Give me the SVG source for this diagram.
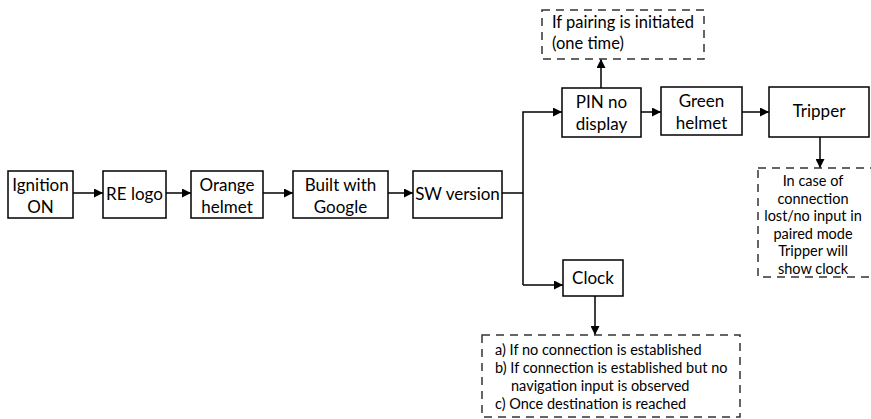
<svg xmlns="http://www.w3.org/2000/svg" width="871" height="419" viewBox="0 0 871 419">
<style>
.box{fill:#fff;stroke:#000;stroke-width:1.5}
.dash{fill:#fff;stroke:#333;stroke-width:1.5;stroke-dasharray:8 6}
.t{font-family:Lato,"Open Sans",sans-serif;font-size:17px;fill:#000;text-anchor:middle}
.s{font-family:Lato,"Open Sans",sans-serif;font-size:14.5px;fill:#000}
.n{font-family:Lato,"Open Sans",sans-serif;font-size:14.5px;fill:#000;text-anchor:middle}
.p{font-family:Lato,"Open Sans",sans-serif;font-size:16.5px;fill:#000}
.c{stroke:#000;stroke-width:1.5;fill:none}
</style>
<defs>
<marker id="ah" viewBox="0 0 10 10" refX="10" refY="5" markerWidth="9" markerHeight="9" markerUnits="userSpaceOnUse" orient="auto">
<path d="M0,0 L10,5 L0,10 z" fill="#000"/>
</marker>
</defs>
<g id="connectors">
<line class="c" x1="73" y1="193" x2="103" y2="193" marker-end="url(#ah)"/>
<line class="c" x1="166" y1="193" x2="191" y2="193" marker-end="url(#ah)"/>
<line class="c" x1="263" y1="193" x2="293" y2="193" marker-end="url(#ah)"/>
<line class="c" x1="388" y1="193" x2="413" y2="193" marker-end="url(#ah)"/>
<line class="c" x1="502" y1="193" x2="523" y2="193"/>
<polyline class="c" points="523,285 523,112 562,112" marker-end="url(#ah)"/>
<line class="c" x1="523" y1="285" x2="563" y2="285" marker-end="url(#ah)"/>
<line class="c" x1="601" y1="88" x2="601" y2="59" marker-end="url(#ah)"/>
<line class="c" x1="641" y1="112" x2="661" y2="112" marker-end="url(#ah)"/>
<line class="c" x1="742" y1="112" x2="769" y2="112" marker-end="url(#ah)"/>
<line class="c" x1="820" y1="137" x2="820" y2="168" marker-end="url(#ah)"/>
<line class="c" x1="595" y1="296" x2="595" y2="335" marker-end="url(#ah)"/>
</g>
<g id="ignition"><rect class="box" x="8" y="171" width="65" height="47"/><text class="t" x="40.5" y="191">Ignition</text><text class="t" x="40.5" y="213">ON</text></g>
<g id="relogo"><rect class="box" x="103" y="171" width="63" height="47"/><text class="t" x="134.5" y="200">RE logo</text></g>
<g id="orange"><rect class="box" x="191" y="171" width="72" height="47"/><text class="t" x="227" y="191">Orange</text><text class="t" x="227" y="213">helmet</text></g>
<g id="google"><rect class="box" x="293" y="171" width="95" height="47"/><text class="t" x="340.5" y="191">Built with</text><text class="t" x="340.5" y="213">Google</text></g>
<g id="sw"><rect class="box" x="413" y="171" width="89" height="47"/><text class="t" x="457.5" y="200">SW version</text></g>
<g id="pairing"><rect class="dash" x="542" y="10" width="162" height="49"/><text class="p" x="552" y="28">If pairing is initiated</text><text class="p" x="552" y="49">(one time)</text></g>
<g id="pin"><rect class="box" x="562" y="88" width="79" height="49"/><text class="t" x="601.5" y="108">PIN no</text><text class="t" x="601.5" y="130">display</text></g>
<g id="green"><rect class="box" x="661" y="87" width="81" height="48"/><text class="t" x="701.5" y="107">Green</text><text class="t" x="701.5" y="129">helmet</text></g>
<g id="tripper"><rect class="box" x="769" y="87" width="100" height="50"/><text class="t" x="819" y="117">Tripper</text></g>
<g id="tripnote"><rect class="dash" x="758" y="168" width="120" height="109"/>
<text class="n"><tspan x="813" y="186">In case of</tspan><tspan x="813" y="203.6">connection</tspan><tspan x="813" y="221.2">lost/no input in</tspan><tspan x="813" y="238.8">paired mode</tspan><tspan x="813" y="256.4">Tripper will</tspan><tspan x="813" y="274">show clock</tspan></text></g>
<g id="clock"><rect class="box" x="563" y="260" width="60" height="36"/><text class="t" x="593" y="284">Clock</text></g>
<g id="clocknote"><rect class="dash" x="482" y="335" width="258" height="82"/>
<text class="s"><tspan x="495" y="355">a) If no connection is established</tspan><tspan x="495" y="373">b) If connection is established but no</tspan><tspan x="511" y="391">navigation input is observed</tspan><tspan x="495" y="409">c) Once destination is reached</tspan></text></g>
</svg>
